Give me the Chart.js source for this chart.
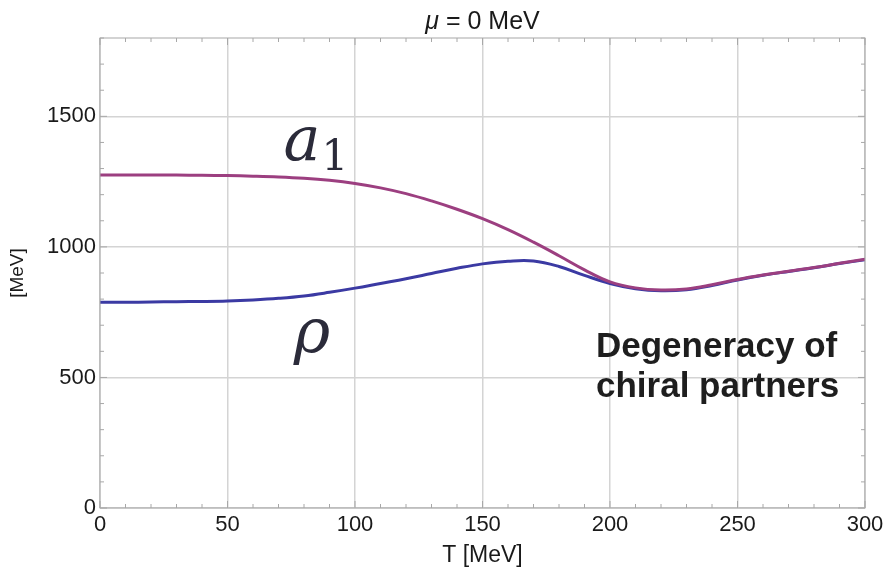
<!DOCTYPE html>
<html>
<head>
<meta charset="utf-8">
<script src="https://cdn.jsdelivr.net/npm/chart.js@4.4.1/dist/chart.umd.min.js"></script>
<style>
  html, body { margin: 0; padding: 0; background: #fff; }
  #wrap { width: 888px; height: 578px; }
</style>
</head>
<body>
<div id="wrap"><canvas id="chart" width="888" height="578"></canvas></div>
<script>
// temperature grid, MeV
const temps = [0, 10, 20, 30, 40, 50, 60, 70, 80, 90, 100, 110, 120, 130, 140, 150,
  160, 170, 180, 190, 200, 210, 220, 230, 240, 250, 260, 270, 280, 290, 300];
// a1 meson mass
const a1Mass = [1275, 1275, 1275, 1275, 1274, 1273, 1271, 1268, 1263, 1255, 1243, 1226, 1204, 1176, 1144, 1108,
  1066, 1018, 966, 912, 866, 843, 835, 839, 855, 875, 892, 907, 921, 937, 953];
// rho meson mass
const rhoMass = [788, 788, 789, 790, 791, 793, 797, 803, 812, 826, 842, 860, 878, 898, 918, 935,
  945, 946, 925, 891, 860, 840, 832, 836, 852, 873, 891, 906, 920, 936, 951];
const xTicks = [0, 50, 100, 150, 200, 250, 300];
const yTicks = [0, 500, 1000, 1500];

const sans = '"Liberation Sans", Arial, sans-serif';

// frame with inward ticks + title + text labels
const framePlugin = {
  id: 'frame',
  afterDraw(chart) {
    const {ctx, chartArea: a, scales} = chart;
    const x = scales.x, y = scales.y;
    ctx.save();
    ctx.strokeStyle = '#a8a8a8';
    ctx.lineWidth = 1;
    ctx.strokeRect(a.left, a.top, a.right - a.left, a.bottom - a.top);
    for (let t = 0; t <= 300; t += 10) {
      const px = x.getPixelForValue(t);
      const len = t % 50 === 0 ? 7 : 4;
      ctx.beginPath();
      ctx.moveTo(px, a.bottom); ctx.lineTo(px, a.bottom - len);
      ctx.moveTo(px, a.top); ctx.lineTo(px, a.top + len);
      ctx.stroke();
    }
    for (let v = 0; v <= 1800; v += 100) {
      const py = y.getPixelForValue(v);
      const len = v % 500 === 0 ? 7 : 4;
      ctx.beginPath();
      ctx.moveTo(a.left, py); ctx.lineTo(a.left + len, py);
      ctx.moveTo(a.right, py); ctx.lineTo(a.right - len, py);
      ctx.stroke();
    }

    // title
    ctx.fillStyle = '#1a1a1a';
    ctx.textBaseline = 'alphabetic';
    const cx = (a.left + a.right) / 2;
    ctx.font = 'italic 25px ' + sans;
    const muW = ctx.measureText('\u03bc').width;
    ctx.font = '25px ' + sans;
    const restW = ctx.measureText(' = 0 MeV').width;
    const sx = cx - (muW + restW) / 2;
    ctx.textAlign = 'left';
    ctx.font = 'italic 25px ' + sans;
    ctx.fillText('\u03bc', sx, 29);
    ctx.font = '25px ' + sans;
    ctx.fillText(' = 0 MeV', sx + muW, 29);

    // curve labels
    ctx.fillStyle = '#2b2b3a';
    ctx.font = 'italic 62px "DejaVu Serif", serif';
    const ax = x.getPixelForValue(72), ay = y.getPixelForValue(1332);
    ctx.fillText('a', ax, ay);
    const aw = ctx.measureText('a').width;
    ctx.font = '42px "DejaVu Serif", serif';
    ctx.fillText('1', ax + aw + 1, ay + 10);
    ctx.font = 'italic 62px "DejaVu Serif", serif';
    ctx.fillText('\u03c1', x.getPixelForValue(76), y.getPixelForValue(597));

    // annotation
    ctx.fillStyle = '#1e1e1e';
    ctx.font = 'bold 35px ' + sans;
    const tx = x.getPixelForValue(194.5);
    ctx.fillText('Degeneracy of', tx, y.getPixelForValue(578));
    ctx.fillText('chiral partners', tx, y.getPixelForValue(425));
    ctx.restore();
  }
};

const data = {
  labels: temps,
  datasets: [
    {
      label: 'a1',
      data: a1Mass,
      borderColor: '#9c3f80',
      borderWidth: 3,
      pointRadius: 0,
      tension: 0.4,
      order: 1
    },
    {
      label: 'rho',
      data: rhoMass,
      borderColor: '#3b3aa3',
      borderWidth: 3,
      pointRadius: 0,
      tension: 0.4,
      order: 2
    }
  ]
};

const options = {
  responsive: false,
  animation: false,
  layout: { padding: { top: 38, right: 23, left: 0, bottom: 0 } },
  plugins: {
    legend: { display: false },
    title: { display: false },
    tooltip: { enabled: false }
  },
  scales: {
    x: {
      type: 'linear',
      min: 0,
      max: 300,
      afterFit(scale) { scale.height = 70; },
      afterBuildTicks(scale) { scale.ticks = xTicks.map(v => ({value: v})); },
      grid: { color: '#d4d4d4', lineWidth: 1.5, tickLength: 0 },
      border: { display: false },
      ticks: { padding: 4, color: '#1a1a1a', font: { family: sans, size: 22 }, callback: v => String(v) },
      title: {
        display: true,
        text: 'T [MeV]',
        color: '#1a1a1a',
        font: { family: sans, size: 23 },
        padding: { top: 0, bottom: 9 }
      }
    },
    y: {
      min: 0,
      max: 1800,
      afterFit(scale) { scale.width = 100; },
      afterBuildTicks(scale) { scale.ticks = yTicks.map(v => ({value: v})); },
      grid: { color: '#d4d4d4', lineWidth: 1.5, tickLength: 0 },
      border: { display: false },
      ticks: { padding: 4, color: '#1a1a1a', font: { family: sans, size: 22 }, callback: v => String(v) },
      title: {
        display: true,
        text: '[MeV]',
        color: '#1a1a1a',
        font: { family: sans, size: 19 },
        padding: { top: 6, bottom: 0 }
      }
    }
  }
};

new Chart(document.getElementById('chart'), {
  type: 'line',
  data: data,
  options: options,
  plugins: [framePlugin]
});
</script>
</body>
</html>
